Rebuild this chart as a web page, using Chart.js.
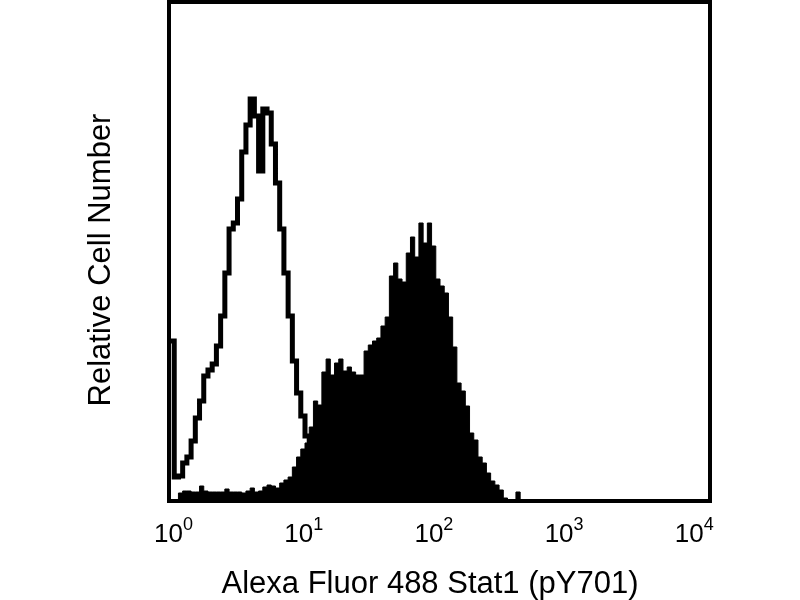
<!DOCTYPE html>
<html>
<head>
<meta charset="utf-8">
<title>Alexa Fluor 488 Stat1 (pY701)</title>
<script src="https://cdn.jsdelivr.net/npm/chart.js@4.4.1/dist/chart.umd.min.js"></script>
<style>
    html, body { margin: 0; padding: 0; background: #fff; }
    #wrap { width: 800px; height: 600px; }
</style>
</head>
<body>
<div id="wrap"><canvas id="histChart" width="800" height="600"></canvas></div>
<script>
// Histogram channels: 32 per decade, 10^0 .. 10^4
const binsPerDecade = 32;
const xMin = 1;
const xMax = 10000;

// isotype / unstimulated control (open outline), counts per channel from channel 0
const openCounts = [
    160, 24, 25, 38, 44, 60, 83, 100, 125, 131,
    137, 155, 185, 228, 272, 278, 302, 349, 376, 402,
    385, 330, 392, 388, 357, 318, 272, 228, 185, 140,
    108, 85, 65, 46, 32, 20, 12, 7, 4, 2
];

// stimulated sample (filled), counts per channel from channel 0
const filledCounts = [
    0, 0, 8, 10, 10, 9, 9, 15, 10, 9,
    9, 9, 9, 12, 9, 9, 9, 8, 10, 13,
    9, 10, 14, 16, 15, 13, 18, 21, 24, 34,
    44, 52, 58, 74, 100, 96, 129, 142, 126, 138,
    142, 130, 134, 129, 126, 126, 150, 156, 160, 163,
    175, 184, 225, 238, 222, 219, 248, 264, 244, 278,
    258, 278, 255, 222, 215, 208, 184, 154, 118, 110,
    95, 68, 61, 44, 38, 28, 20, 16, 11, 3,
    1, 1, 9, 1
];

const tickExponents = [0, 1, 2, 3, 4];
const xTitle = 'Alexa Fluor 488 Stat1 (pY701)';
const yTitle = 'Relative Cell Number';
const yMax = 498;

// channel index -> {x, y}, plus a closing point back at zero
function toPoints(counts) {
    const pts = counts.map((v, i) => ({ x: Math.pow(10, i / binsPerDecade), y: v }));
    pts.push({ x: Math.pow(10, counts.length / binsPerDecade), y: 0 });
    return pts;
}

const fontFamily = '"Liberation Sans", Arial, Helvetica, sans-serif';

// frame, tick labels with superscripts and axis titles
const decorPlugin = {
    id: 'decor',
    afterDatasetsDraw(chart) {
        const { ctx, chartArea: a, scales } = chart;
        ctx.save();

        ctx.strokeStyle = '#000';
        ctx.lineWidth = 4;
        ctx.strokeRect(a.left - 1, a.top - 1, a.right - a.left + 1, a.bottom - a.top + 1);

        ctx.fillStyle = '#000';
        ctx.textAlign = 'left';
        ctx.textBaseline = 'alphabetic';
        tickExponents.forEach((k) => {
            const px = scales.x.getPixelForValue(Math.pow(10, k));
            // labels in the original drift a little left of the decades
            const center = px + 3.5 - 4.8 * k;
            ctx.font = '26px ' + fontFamily;
            const wBase = ctx.measureText('10').width;
            ctx.font = '18px ' + fontFamily;
            const wExp = ctx.measureText(String(k)).width;
            const start = center - (wBase + wExp) / 2;
            ctx.font = '26px ' + fontFamily;
            ctx.fillText('10', start, a.bottom + 41);
            ctx.font = '18px ' + fontFamily;
            ctx.fillText(String(k), start + wBase, a.bottom + 29);
        });

        ctx.font = '31px ' + fontFamily;
        ctx.textAlign = 'center';
        ctx.fillText(xTitle, 430, 593);

        ctx.translate(110, 260);
        ctx.rotate(-Math.PI / 2);
        ctx.fillText(yTitle, 0, 0);

        ctx.restore();
    }
};

new Chart(document.getElementById('histChart').getContext('2d'), {
    type: 'line',
    data: {
        datasets: [
            {
                label: 'Stimulated',
                data: toPoints(filledCounts),
                stepped: true,
                fill: 'origin',
                backgroundColor: '#000',
                borderColor: '#000',
                borderWidth: 1,
                pointRadius: 0,
                borderJoinStyle: 'miter'
            },
            {
                label: 'Control',
                data: toPoints(openCounts),
                stepped: true,
                fill: false,
                borderColor: '#000',
                borderWidth: 5,
                pointRadius: 0,
                borderJoinStyle: 'miter',
                borderCapStyle: 'butt'
            }
        ]
    },
    options: {
        responsive: false,
        animation: false,
        devicePixelRatio: 1,
        layout: { padding: { left: 170, right: 90, top: 3, bottom: 99 } },
        plugins: {
            legend: { display: false },
            tooltip: { enabled: false }
        },
        scales: {
            x: { type: 'logarithmic', min: xMin, max: xMax, display: false },
            y: { type: 'linear', min: 0, max: yMax, display: false }
        }
    },
    plugins: [decorPlugin]
});
</script>
</body>
</html>
